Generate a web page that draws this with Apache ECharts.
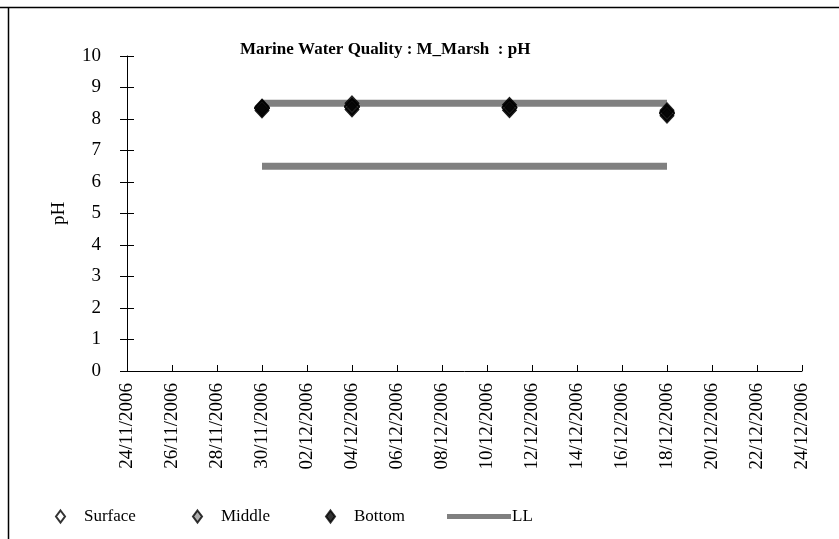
<!DOCTYPE html>
<html>
<head>
<meta charset="utf-8">
<script src="https://cdn.jsdelivr.net/npm/echarts@6/dist/echarts.min.js"></script>
<style>html,body{margin:0;padding:0;background:#fff}#c{width:839px;height:539px}</style>
</head>
<body>
<div id="c"></div>
<script>
// ---- data ----
var axisStart = '24/11/2006';
var axisEnd = '24/12/2006';
var sampleDates = ['30/11/2006','30/11/2006','04/12/2006','04/12/2006','11/12/2006','11/12/2006','18/12/2006','18/12/2006'];
var surfaceValues = [8.35, 8.33, 8.42, 8.38, 8.38, 8.36, 8.22, 8.18];
var middleValues  = [8.36, 8.34, 8.40, 8.37, 8.37, 8.35, 8.20, 8.17];
var bottomValues  = [8.40, 8.27, 8.50, 8.30, 8.45, 8.28, 8.28, 8.10];
var limitDates = ['30/11/2006','18/12/2006'];
var upperLimit = [8.5, 8.5];
var lowerLimit = [6.5, 6.5];
var yTicks = [0,1,2,3,4,5,6,7,8,9,10];

function toUTC(s){var p=s.split('/');return Date.UTC(+p[2],+p[1]-1,+p[0]);}
var DAY=86400000, base=toUTC(axisStart);
function dayOff(s){return (toUTC(s)-base)/DAY;}
function pad(n){return (n<10?'0':'')+n;}
function fmt(v){var d=new Date(base+Math.round(v)*DAY);return pad(d.getUTCDate())+'/'+pad(d.getUTCMonth()+1)+'/'+d.getUTCFullYear();}
function pts(dates, vals){return dates.map(function(d,i){return [dayOff(d), vals[i]];});}

var FONT='"Liberation Serif","Times New Roman",serif';
var chart=echarts.init(document.getElementById('c'));
var diamond=[14,15];
function lg(name,left,extra){
  var o={data:[name],left:left,top:503,orient:'horizontal',itemWidth:9,itemHeight:12,
    textStyle:{fontFamily:FONT,fontSize:17,color:'#000',padding:[0,0,0,14]},selectedMode:false};
  for(var k in extra)o[k]=extra[k];return o;}
chart.setOption({
  animation:false,
  backgroundColor:'#fff',
  title:{text:'Marine Water Quality : M_Marsh  : pH',left:235,top:36,
    textStyle:{fontFamily:FONT,fontSize:17,fontWeight:'bold',color:'#000'}},
  graphic:[
    {type:'line',shape:{x1:0,y1:7.5,x2:839,y2:7.5},style:{stroke:'#000',lineWidth:1.5}},
    {type:'line',shape:{x1:8.5,y1:7,x2:8.5,y2:539},style:{stroke:'#000',lineWidth:1.5}}
  ],
  legend:[
    lg('Surface',50,{}),
    lg('Middle',187,{}),
    lg('Bottom',320,{}),
    lg('LL',442,{icon:'rect',itemWidth:64,itemHeight:5,textStyle:{fontFamily:FONT,fontSize:17,color:'#000',padding:[0,0,0,-4]}})
  ],
  grid:{left:127,right:37,top:56,bottom:168,containLabel:false},
  xAxis:{type:'value',min:0,max:dayOff(axisEnd),interval:2,
    axisLine:{lineStyle:{color:'#000',width:1}},
    axisTick:{inside:true,length:6,lineStyle:{color:'#000'}},
    splitLine:{show:false},
    axisLabel:{rotate:90,margin:12,fontFamily:FONT,fontSize:19,color:'#000',formatter:fmt}},
  yAxis:[
    {type:'value',min:yTicks[0],max:yTicks[yTicks.length-1],interval:1,position:'left',
     name:'pH',nameLocation:'middle',nameGap:58,nameRotate:90,
     nameTextStyle:{fontFamily:FONT,fontSize:19,color:'#000'},
     axisLine:{show:true,lineStyle:{color:'#000'}},
     axisTick:{show:true,length:7,lineStyle:{color:'#000'}},
     splitLine:{show:false},
     axisLabel:{margin:26,fontFamily:FONT,fontSize:19,color:'#000'}},
    {type:'value',min:yTicks[0],max:yTicks[yTicks.length-1],interval:1,position:'left',offset:0,
     axisLine:{show:false},axisTick:{show:true,inside:true,length:7,lineStyle:{color:'#000'}},
     splitLine:{show:false},axisLabel:{show:false}}
  ],
  series:[
    {name:'UL',type:'line',data:pts(limitDates,upperLimit),showSymbol:false,symbol:'none',color:'#808080',
     lineStyle:{color:'#808080',width:7},z:1},
    {name:'LL',type:'line',data:pts(limitDates,lowerLimit),showSymbol:false,symbol:'none',color:'#808080',
     lineStyle:{color:'#808080',width:7},z:1},
    {name:'Surface',type:'scatter',data:pts(sampleDates,surfaceValues),symbol:'diamond',symbolSize:diamond,
     itemStyle:{color:'#fff',borderColor:'#000',borderWidth:1.5},z:2},
    {name:'Middle',type:'scatter',data:pts(sampleDates,middleValues),symbol:'diamond',symbolSize:diamond,
     itemStyle:{color:'#999',borderColor:'#000',borderWidth:1.5},z:3},
    {name:'Bottom',type:'scatter',data:pts(sampleDates,bottomValues),symbol:'diamond',symbolSize:diamond,
     itemStyle:{color:'#000',borderColor:'#000',borderWidth:1},z:4}
  ]
});
</script>
</body>
</html>
